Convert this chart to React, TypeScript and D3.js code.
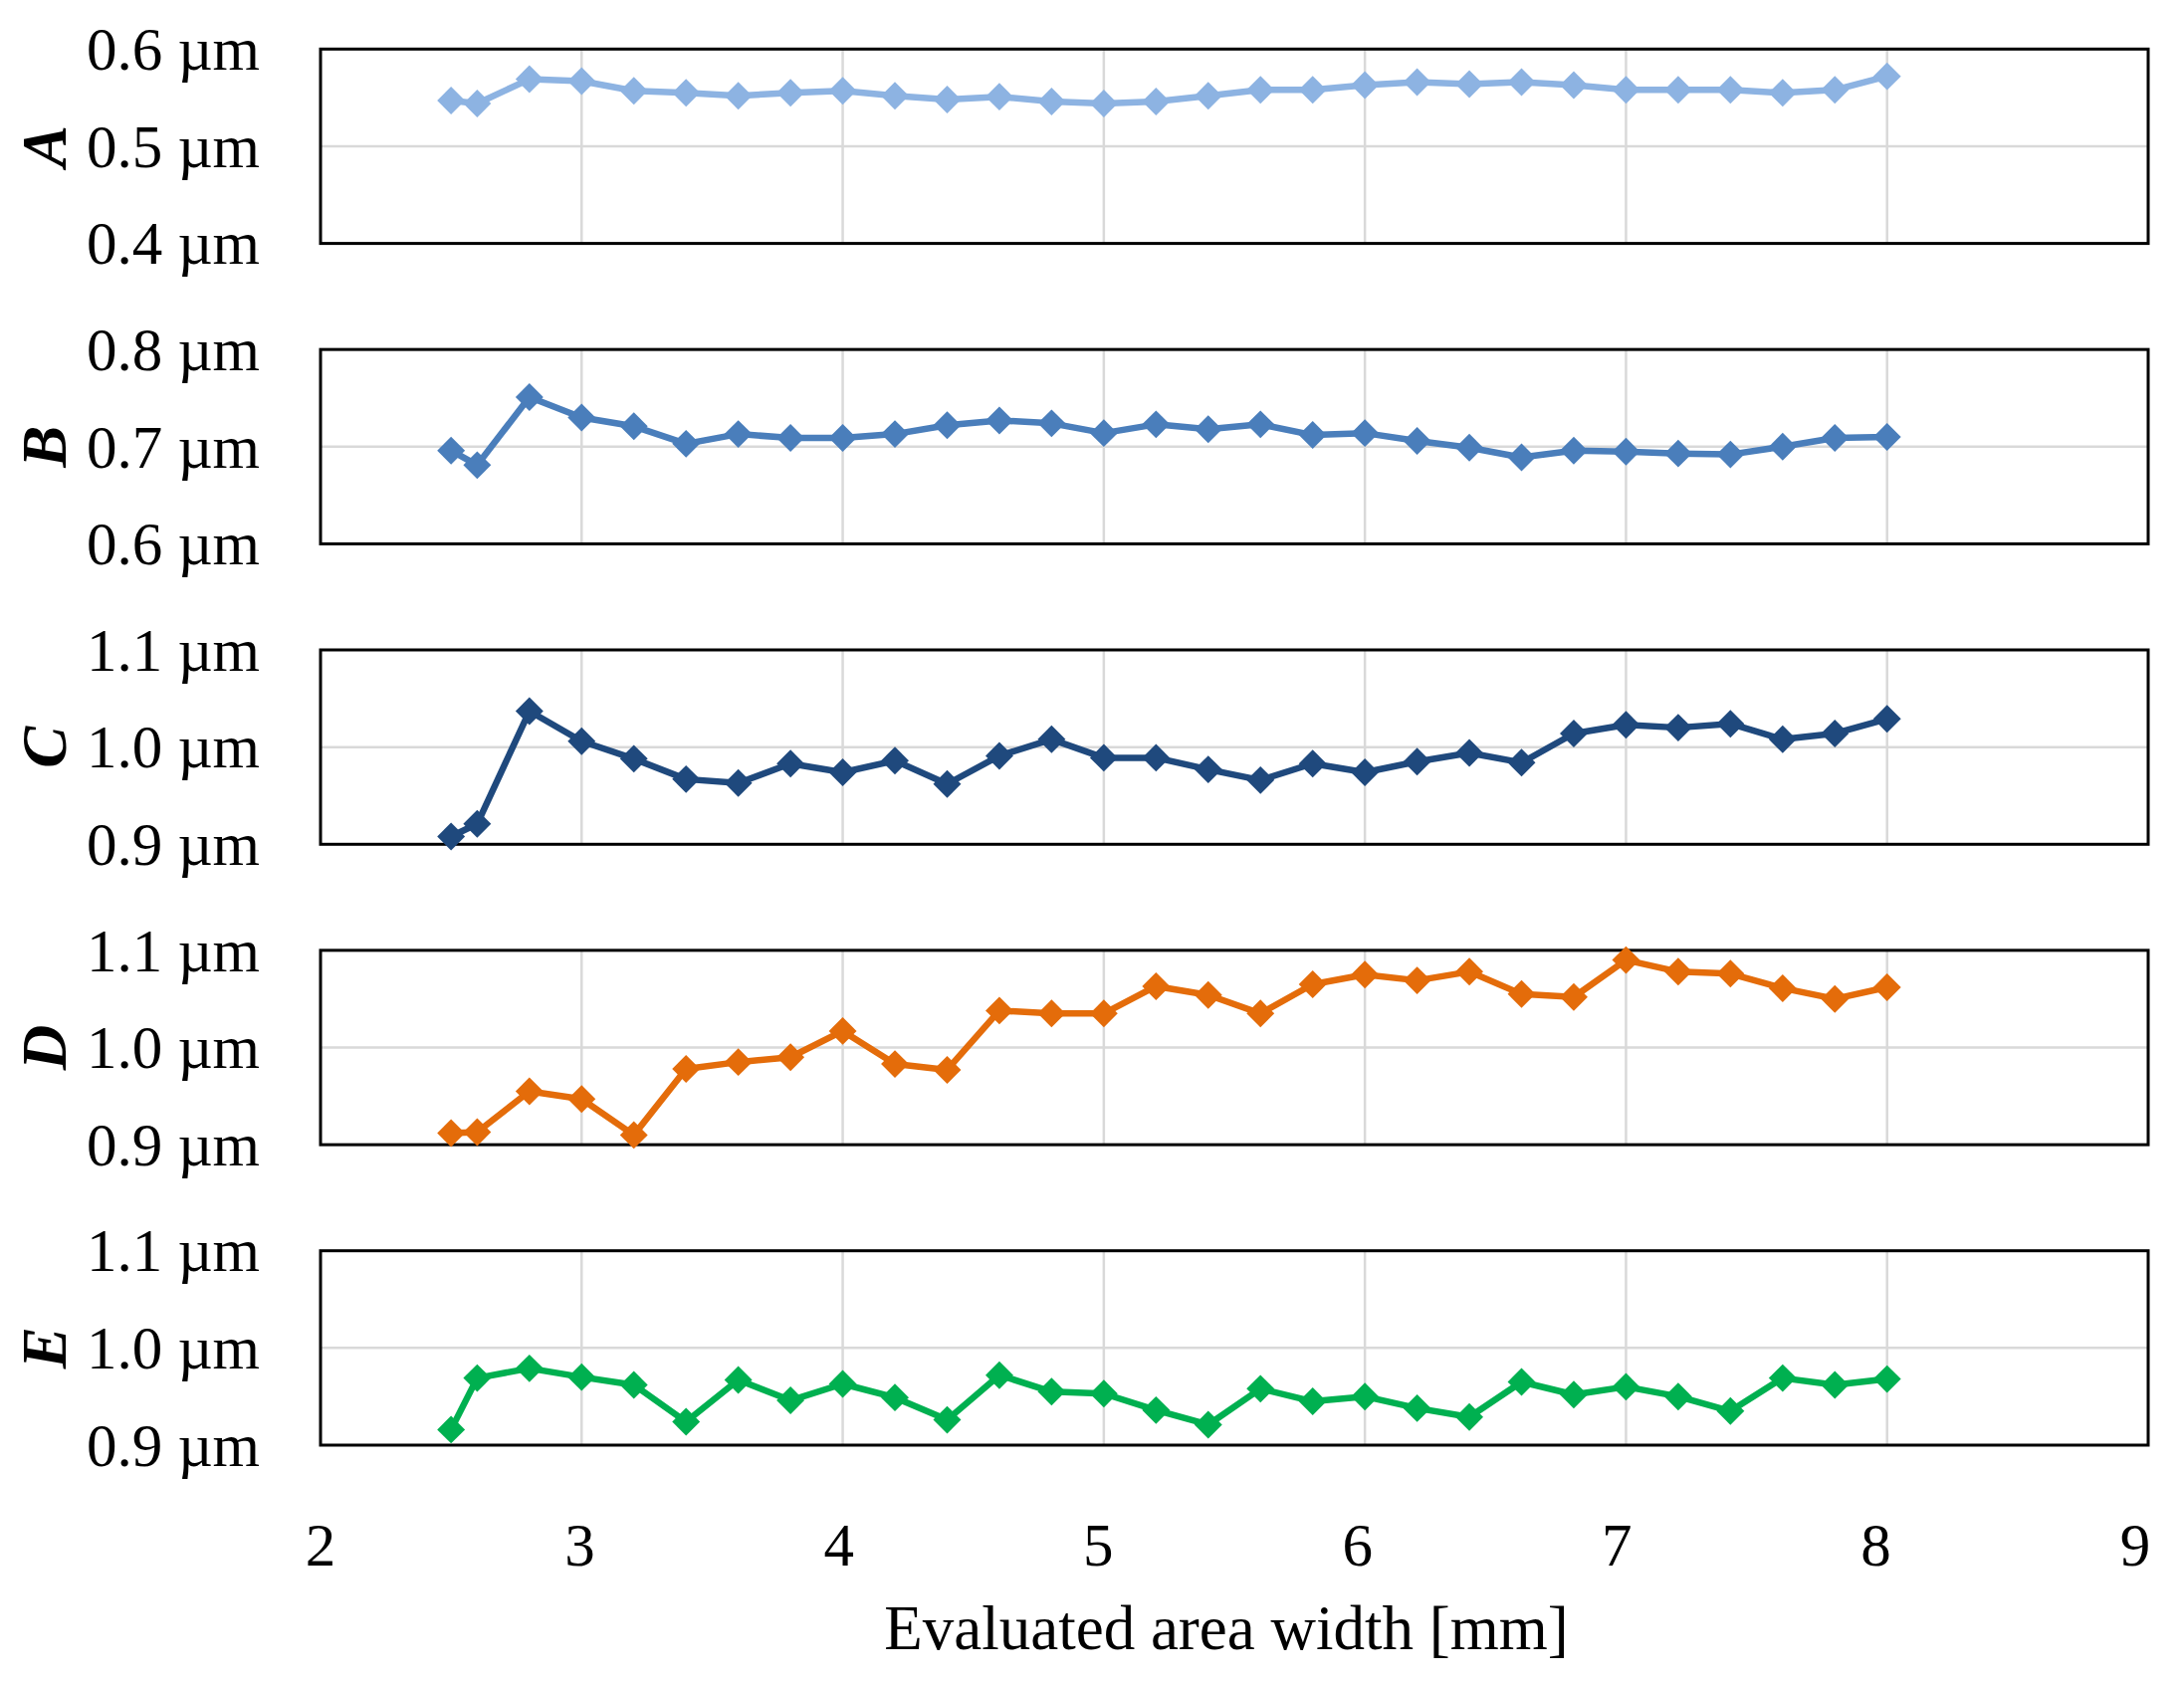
import * as d3 from "d3";

// evaluated area width [mm]
const widths = [2.5, 2.6, 2.8, 3.0, 3.2, 3.4, 3.6, 3.8, 4.0, 4.2, 4.4, 4.6, 4.8, 5.0, 5.2, 5.4, 5.6, 5.8, 6.0, 6.2, 6.4, 6.6, 6.8, 7.0, 7.2, 7.4, 7.6, 7.8, 8.0];

const seriesA = [0.547, 0.544, 0.569, 0.567, 0.557, 0.555, 0.552, 0.555, 0.557, 0.552, 0.548, 0.551, 0.546, 0.544, 0.546, 0.552, 0.558, 0.558, 0.563, 0.566, 0.564, 0.566, 0.563, 0.558, 0.558, 0.558, 0.555, 0.558, 0.572];
const seriesB = [0.696, 0.681, 0.751, 0.730, 0.721, 0.703, 0.713, 0.709, 0.709, 0.713, 0.722, 0.727, 0.724, 0.714, 0.723, 0.718, 0.723, 0.712, 0.714, 0.706, 0.699, 0.689, 0.696, 0.695, 0.693, 0.692, 0.700, 0.709, 0.710];
const seriesC = [0.908, 0.921, 1.037, 1.006, 0.988, 0.967, 0.963, 0.983, 0.974, 0.986, 0.962, 0.991, 1.008, 0.989, 0.989, 0.977, 0.966, 0.983, 0.974, 0.985, 0.994, 0.984, 1.014, 1.023, 1.020, 1.024, 1.008, 1.014, 1.029];
const seriesD = [0.912, 0.913, 0.955, 0.947, 0.910, 0.978, 0.985, 0.990, 1.017, 0.983, 0.977, 1.038, 1.035, 1.035, 1.063, 1.054, 1.035, 1.065, 1.075, 1.069, 1.078, 1.055, 1.052, 1.090, 1.078, 1.076, 1.061, 1.050, 1.062];
const seriesE = [0.916, 0.969, 0.979, 0.970, 0.962, 0.924, 0.967, 0.946, 0.963, 0.949, 0.926, 0.972, 0.955, 0.953, 0.936, 0.921, 0.958, 0.945, 0.950, 0.938, 0.929, 0.965, 0.952, 0.960, 0.950, 0.935, 0.969, 0.962, 0.968];

const panelNames = ["A", "B", "C", "D", "E"];
const panelValues = [seriesA, seriesB, seriesC, seriesD, seriesE];
const panelColors = ["#8db3e2", "#4a7ebb", "#1f497d", "#e46c0a", "#00b050"];
const panelDomains: [number, number][] = [[0.4, 0.6], [0.6, 0.8], [0.9, 1.1], [0.9, 1.1], [0.9, 1.1]];
const yTicksPerPanel = [[0.4, 0.5, 0.6], [0.6, 0.7, 0.8], [0.9, 1.0, 1.1], [0.9, 1.0, 1.1], [0.9, 1.0, 1.1]];
const xTicks = [2, 3, 4, 5, 6, 7, 8, 9];
const xTitle = "Evaluated area width [mm]";

const W = 2194;
const H = 1690;
const left = 322;
const right = 2158;
const firstTop = 49.3;
const pitch = 301.85;
const panelH = 195.3;
const font = "'Liberation Serif', 'Times New Roman', serif";
const fs = 61;

export default function App() {
  const x = d3.scaleLinear().domain([2, 9]).range([left, right]);
  // the tick labels of the bottom axis sit on a slightly narrower span
  const xLabel = d3.scaleLinear().domain([2, 9]).range([322, 2145]);
  const diamond = d3.symbol(d3.symbolSquare, 390)();
  const fmt = d3.format(".1f");

  return (
    <svg width={W} height={H} style={{ position: "absolute", left: 0, top: 0, background: "#fff" }} fontFamily={font}>
      <rect width={W} height={H} fill="#fff" />
      {panelNames.map((name, i) => {
        const top = firstTop + i * pitch;
        const y = d3.scaleLinear().domain(panelDomains[i]).range([top + panelH, top]);
        const color = panelColors[i];
        const pts = widths.map((w, j) => [w, panelValues[i][j]] as [number, number]);
        const line = d3.line<[number, number]>().x(d => x(d[0])).y(d => y(d[1]));
        return (
          <g key={name}>
            {/* grid */}
            {xTicks.slice(1, -1).map(t => (
              <line key={t} x1={x(t)} x2={x(t)} y1={top} y2={top + panelH} stroke="#d9d9d9" strokeWidth={2.5} />
            ))}
            {yTicksPerPanel[i].slice(1, -1).map(t => (
              <line key={t} x1={left} x2={right} y1={y(t)} y2={y(t)} stroke="#d9d9d9" strokeWidth={2.5} />
            ))}
            <rect x={left} y={top} width={right - left} height={panelH} fill="none" stroke="#000" strokeWidth={3} />
            {/* y tick labels */}
            {yTicksPerPanel[i].map(t => (
              <text key={t} x={261} y={y(t)} dy="0.34em" textAnchor="end" fontSize={fs} fill="#000">
                {fmt(t) + " µm"}
              </text>
            ))}
            <text
              transform={`translate(45,${top + panelH / 2}) rotate(-90)`}
              textAnchor="middle"
              dominantBaseline="central"
              fontSize={fs + 2}
              fontWeight="bold"
              fontStyle="italic"
              fill="#000"
            >
              {name}
            </text>
            <path d={line(pts) ?? ""} fill="none" stroke={color} strokeWidth={6.5} strokeLinejoin="round" />
            {pts.map((p, j) => (
              <path key={j} d={diamond} transform={`translate(${x(p[0])},${y(p[1])}) rotate(45)`} fill={color} />
            ))}
          </g>
        );
      })}
      {xTicks.map(t => (
        <text key={t} x={xLabel(t)} y={1573} textAnchor="middle" fontSize={fs} fill="#000">
          {t}
        </text>
      ))}
      <text x={1232} y={1657} textAnchor="middle" fontSize={63} fill="#000">
        {xTitle}
      </text>
    </svg>
  );
}
